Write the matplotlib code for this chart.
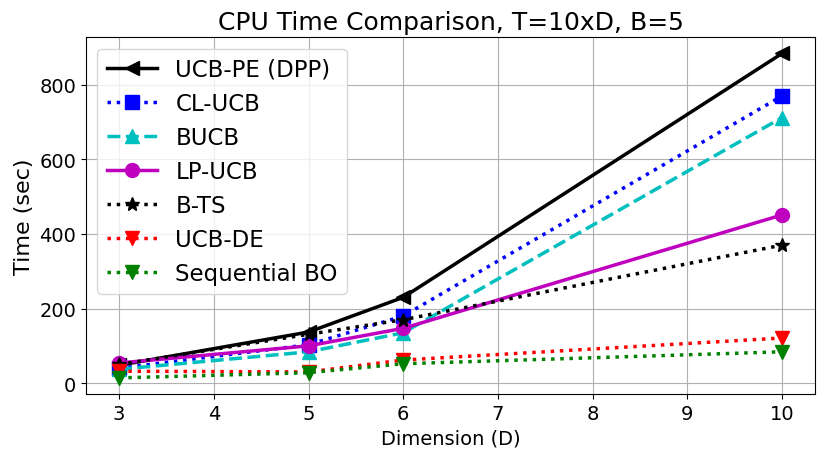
import numpy as np
import matplotlib.pyplot as plt

# data
dims = [3, 5, 6, 10]
ucb_pe = [48, 137, 230, 884]
cl_ucb = [40, 103, 180, 770]
bucb = [37, 84, 135, 712]
lp_ucb = [54, 100, 147, 451]
b_ts = [50, 131, 170, 370]
ucb_de = [32, 30, 62, 121]
seq_bo = [14, 28, 52, 84]

series = [
    (ucb_pe, 'k-<', 'UCB-PE (DPP)'),
    (cl_ucb, 'b:s', 'CL-UCB'),
    (bucb, 'c--^', 'BUCB'),
    (lp_ucb, 'm-o', 'LP-UCB'),
    (b_ts, 'k:*', 'B-TS'),
    (ucb_de, 'r:v', 'UCB-DE'),
    (seq_bo, 'g:v', 'Sequential BO'),
]

fig = plt.figure(figsize=(8.31, 4.6), dpi=100)
ax = fig.add_axes([0.1035, 0.141, 0.8775, 0.776])
for vals, fmt, name in series:
    ax.plot(dims, vals, fmt, linewidth=2.5, markersize=10, label=name)

ax.set_title('CPU Time Comparison, T=10xD, B=5', fontsize=18)
ax.set_xlabel('Dimension (D)', fontsize=14)
ax.set_ylabel('Time (sec)', fontsize=16)
ax.tick_params(labelsize=14)
ax.grid(True)
ax.legend(loc='upper left', fontsize=16.5, handlelength=2.2, labelspacing=0.48)

fig.savefig('out.png')
